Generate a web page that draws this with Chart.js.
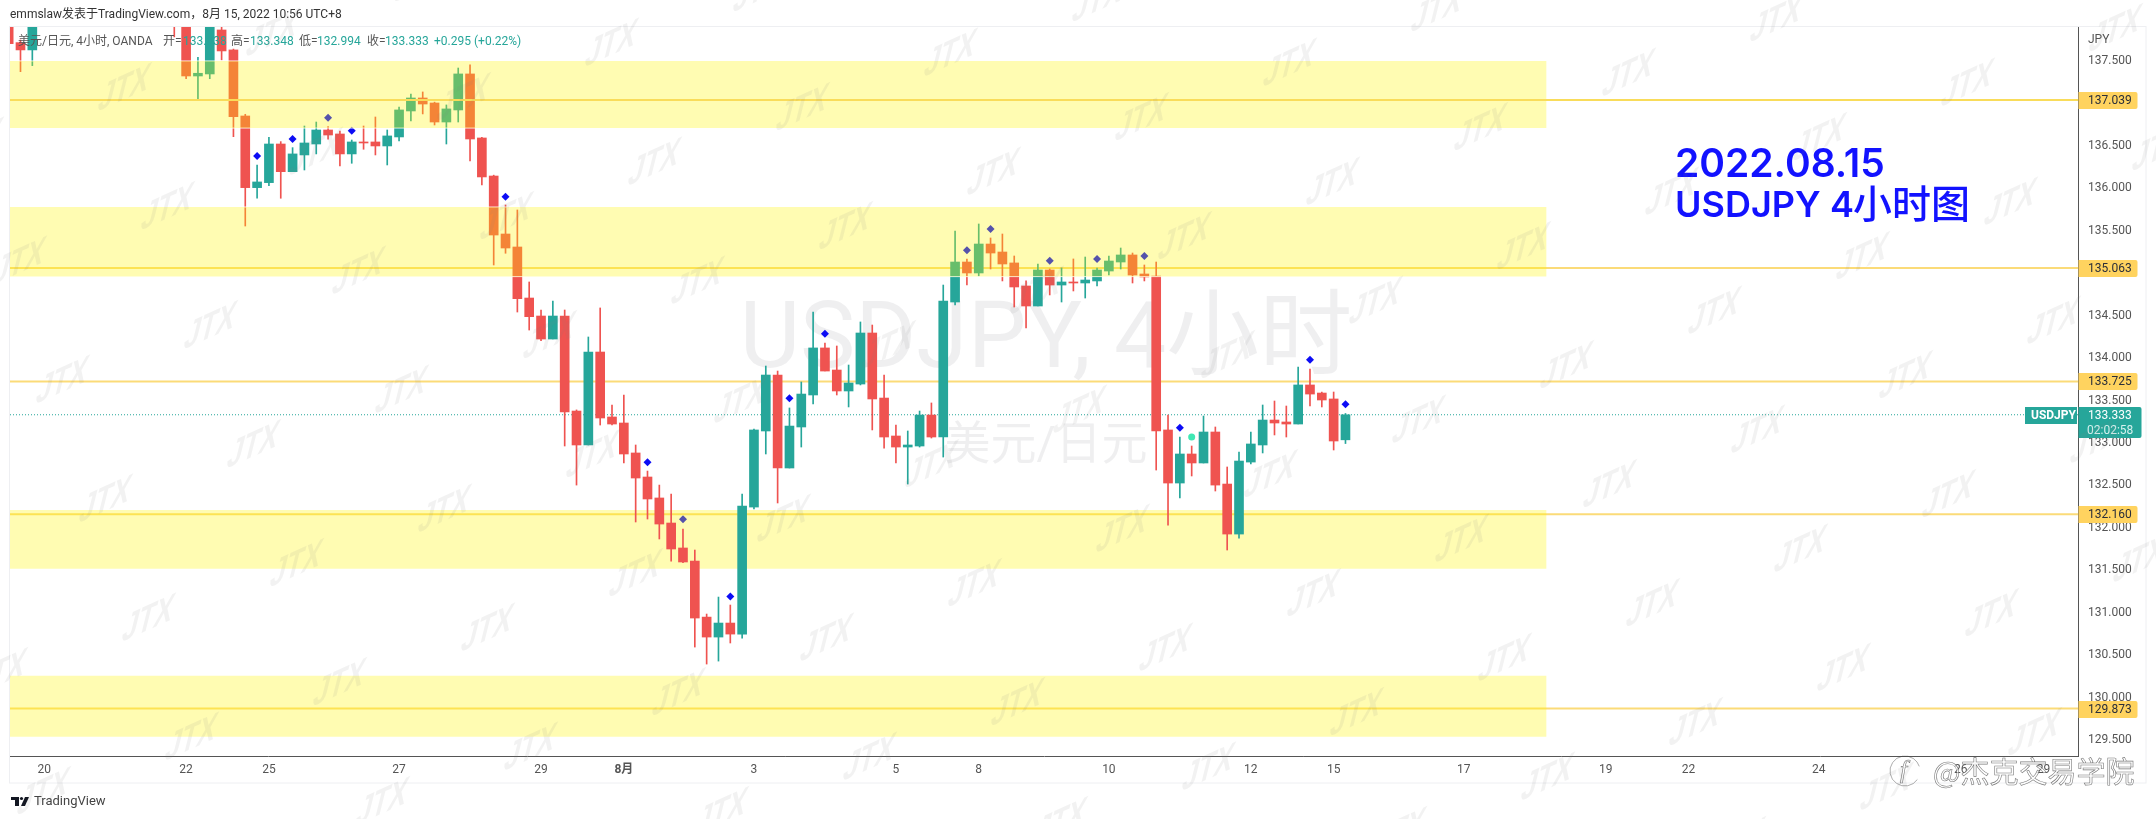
<!DOCTYPE html>
<html>
<head>
<meta charset="utf-8">
<style>
  html, body { margin: 0; padding: 0; background: #fff; }
  canvas { display: block; }
</style>
<script src="https://cdn.jsdelivr.net/npm/chart.js@4/dist/chart.umd.min.js"></script>
</head>
<body>
<canvas id="myChart" width="2156" height="819"></canvas>
<script>
// 4h candles, index 0 is the one cut off at the left edge. 3-13 sit above the visible range.
const opens = [138.05,137.716,137.63,138.00,138.25,138.40,138.30,138.15,138.30,138.45,138.35,138.20,138.35,138.50,138.30,138.00,137.323,137.347,137.865,137.63,
  136.852,136.008,136.067,136.522,136.196,136.393,136.522,136.687,136.64,136.405,136.546,136.546,136.499,136.605,136.911,137.064,137.005,136.781,136.923,137.347,
  136.593,136.145,135.462,135.309,134.708,134.496,134.225,134.496,133.377,132.977,134.072,133.307,133.236,132.883,132.6,132.353,132.058,131.764,131.61,130.95,
  130.715,130.88,130.75,132.246,133.142,133.801,132.706,133.189,133.566,134.12,133.86,133.613,133.695,134.296,133.53,133.083,132.953,132.965,133.33,133.071,
  134.661,135.132,135.003,135.344,135.25,135.121,134.85,134.614,135.038,134.861,134.897,134.885,134.909,135.026,135.132,135.215,134.991,134.967,133.154,132.529,
  132.871,132.765,133.13,132.517,131.928,132.776,132.977,133.271,133.248,133.224,133.684,133.589,133.519,133.038];
const highs = [138.15,137.747,138.2,138.35,138.50,138.60,138.45,138.40,138.55,138.70,138.50,138.45,138.60,138.65,138.45,138.1,137.544,138.02,138.0,137.64,
  136.872,136.275,136.601,136.55,136.479,136.734,136.781,136.726,136.675,136.569,136.734,136.84,136.687,136.958,137.111,137.135,137.015,136.982,137.417,137.453,
  136.6,136.155,135.804,135.745,134.897,134.567,134.673,134.567,133.39,134.249,134.591,133.448,133.566,132.977,132.67,132.505,132.399,131.987,131.74,130.986,
  131.186,131.092,132.399,133.165,133.907,133.848,133.413,133.719,134.543,134.178,134.143,133.919,134.426,134.39,133.801,133.212,133.142,133.377,133.472,134.861,
  135.497,135.168,135.58,135.415,135.462,135.203,134.909,135.109,135.05,135.062,135.168,135.191,135.062,135.203,135.297,135.238,135.097,135.132,133.33,133.071,
  132.965,133.318,133.189,132.718,132.894,133.13,133.448,133.495,133.436,133.896,133.872,133.6,133.601,133.348];
const lows = [137.69,137.374,137.445,137.98,138.10,138.20,138.05,138.00,138.20,138.30,138.10,138.05,138.25,138.20,137.783,137.291,137.041,137.291,137.512,136.608,
  135.556,135.883,136.031,135.883,136.196,136.216,136.405,136.578,136.263,136.295,136.46,136.393,136.275,136.558,136.793,136.876,136.746,136.522,136.781,136.322,
  136.04,135.097,135.235,134.543,134.331,134.205,134.225,132.965,132.505,132.977,133.212,133.212,132.765,132.07,132.105,131.87,131.61,131.59,130.597,130.397,
  130.432,130.645,130.703,132.223,132.871,132.294,132.706,132.953,133.46,133.848,133.566,133.425,133.684,133.154,132.941,132.765,132.517,132.953,133.059,132.835,
  134.626,134.861,134.967,135.05,134.909,134.602,134.355,134.614,134.744,134.661,134.791,134.708,134.85,134.979,135.05,134.885,134.909,132.682,132.034,132.353,
  132.612,132.765,132.435,131.74,131.881,132.753,132.883,133.095,133.071,133.224,133.436,133.425,132.918,132.994];
const closes = [137.704,137.63,138.0,138.25,138.40,138.30,138.15,138.30,138.45,138.35,138.20,138.35,138.50,138.30,138.00,137.323,137.355,137.95,137.618,136.844,
  136.008,136.075,136.522,136.196,136.405,136.534,136.687,136.628,136.405,136.546,136.534,136.499,136.617,136.923,137.064,136.993,136.781,136.935,137.347,136.581,
  136.134,135.45,135.297,134.7,134.488,134.225,134.496,133.366,132.977,134.072,133.295,133.224,132.871,132.588,132.341,132.046,131.752,131.599,130.939,130.715,
  130.88,130.75,132.258,133.154,133.801,132.706,133.2,133.577,134.12,133.848,133.613,133.707,134.296,133.519,133.071,132.953,132.977,133.33,133.071,134.673,
  135.132,135.003,135.344,135.238,135.109,134.838,134.614,135.038,134.861,134.897,134.885,134.92,135.038,135.144,135.215,134.979,134.956,133.142,132.529,132.871,
  132.765,133.13,132.505,131.928,132.788,132.989,133.271,133.236,133.224,133.684,133.577,133.507,133.024,133.333];

// signal markers above candles
const markerIdx = [21,24,27,29,42,54,57,61,66,69,81,83,88,92,96,99,110,113];
const markerPrice = [136.381,136.581,136.832,136.679,135.901,132.773,132.102,131.194,133.527,134.288,135.27,135.521,135.148,135.168,135.203,133.181,133.981,133.456];
const dotIdx = [100];
const dotPrice = [133.07];

// horizontal levels and shaded zones
const levels = [137.039, 135.063, 133.725, 132.16, 129.873];
const bandTop = [137.5, 135.78, 132.21, 130.26];
const bandBottom = [136.71, 134.96, 131.52, 129.54];
const bandEnd = 130;
const lastPrice = 133.333;
const countdown = '02:02:58';

const yTicks = [129.5,130,130.5,131,131.5,132,132.5,133,133.5,134,134.5,135,135.5,136,136.5,137,137.5];
const xTicks = [3,15,22,33,45,52,63,75,82,93,105,112,123,135,142,153,165,172];
const xTickLabels = ['20','22','25','27','29','8月','3','5','8','10','12','15','17','19','22','24','26','29'];

const UP = '#26a69a';
const DOWN = '#ef5350';
const xMin = 0.113;
const xMax = 174.92;
const candleColors = opens.map((o, i) => closes[i] >= o ? UP : DOWN);
const FONT = 'Roboto, "Noto Sans CJK SC", sans-serif';

const datasets = [];

// the two upper zones lie over the candles (orange/green look, white edge),
// the two lower ones lie under them but still over the markers
bandTop.forEach((top, i) => {
  const upper = i < 2;
  datasets.push({
    type: 'line',
    data: [{ x: xMin, y: top }, { x: bandEnd, y: top }],
    borderWidth: 0,
    pointRadius: 0,
    fill: { value: bandBottom[i] },
    backgroundColor: 'rgba(255,245,0,0.3)',
    order: upper ? 0 : 6
  });
  if (upper) {
    [top, bandBottom[i]].forEach(edge => {
      datasets.push({
        type: 'line',
        data: [{ x: xMin, y: edge }, { x: bandEnd, y: edge }],
        borderColor: 'rgba(255,255,255,0.85)',
        borderWidth: 1,
        pointRadius: 0,
        order: 0
      });
    });
  }
});
levels.forEach((level, i) => {
  datasets.push({
    type: 'line',
    data: [{ x: xMin, y: level }, { x: xMax, y: level }],
    borderColor: i === 0 ? '#f9dc5a' : '#fbdb78',
    borderWidth: 2,
    pointRadius: 0,
    order: i === 0 ? -1 : 7
  });
});
datasets.push({
  type: 'line',
  data: [{ x: xMin, y: lastPrice }, { x: xMax, y: lastPrice }],
  borderColor: '#26a69a',
  borderWidth: 1,
  borderDash: [1, 2],
  pointRadius: 0,
  order: 7
});
datasets.push({
  type: 'scatter',
  data: markerIdx.map((x, i) => ({ x, y: markerPrice[i] })),
  pointStyle: 'rectRot',
  pointRadius: 4,
  pointBackgroundColor: '#0c0cf5',
  pointBorderWidth: 0,
  showLine: false,
  order: 8
});
datasets.push({
  type: 'scatter',
  data: dotIdx.map((x, i) => ({ x, y: dotPrice[i] })),
  pointStyle: 'circle',
  pointRadius: 3.5,
  pointBackgroundColor: '#3fe8b4',
  pointBorderWidth: 0,
  showLine: false,
  order: 8
});
datasets.push({
  type: 'bar',
  data: opens.map((o, i) => ({ x: i, y: [o, closes[i]] })),
  backgroundColor: candleColors,
  barThickness: 9,
  minBarLength: 1,
  grouped: false,
  order: 4
});
datasets.push({
  type: 'bar',
  data: opens.map((o, i) => ({ x: i, y: [lows[i], highs[i]] })),
  backgroundColor: candleColors,
  barThickness: 1,
  grouped: false,
  order: 5
});

function roundTag(ctx, x, y, w, h, color) {
  ctx.fillStyle = color;
  ctx.beginPath();
  ctx.roundRect(x, y, w, h, [0, 2, 2, 0]);
  ctx.fill();
}

// big symbol name behind the candles, chart frame
const backdrop = {
  id: 'backdrop',
  beforeDatasetsDraw(chart) {
    const { ctx } = chart;
    ctx.save();
    ctx.strokeStyle = '#eeeff2';
    ctx.lineWidth = 1;
    ctx.strokeRect(9.5, 26.5, 2136.5, 756.5);
    ctx.fillStyle = 'rgba(120,123,134,0.12)';
    ctx.textAlign = 'center';
    ctx.textBaseline = 'middle';
    ctx.font = '93px ' + FONT;
    ctx.fillText('USDJPY, 4小时', 1046, 344);
    ctx.font = '46px ' + FONT;
    ctx.fillText('美元/日元', 1046, 447);
    ctx.restore();
  }
};

// price tags, legends and the overlaid text
const overlay = {
  id: 'overlay',
  afterDraw(chart) {
    const { ctx } = chart;
    const y = chart.scales.y;
    ctx.save();
    ctx.textBaseline = 'middle';

    levels.forEach(level => {
      const py = Math.round(y.getPixelForValue(level));
      roundTag(ctx, 2078.5, py - 8, 59, 17, '#ffd35f');
      ctx.fillStyle = '#2a2e39';
      ctx.font = '12px ' + FONT;
      ctx.fillText(level.toFixed(3), 2088, py + 1);
    });

    const lp = Math.round(y.getPixelForValue(lastPrice));
    ctx.fillStyle = UP;
    ctx.fillRect(2025, lp - 8, 52, 17);
    roundTag(ctx, 2078.5, lp - 8, 63, 31, UP);
    ctx.fillStyle = '#fff';
    ctx.font = 'bold 12px ' + FONT;
    ctx.fillText('USDJPY', 2031, lp + 1);
    ctx.font = '12px ' + FONT;
    ctx.fillText(lastPrice.toFixed(3), 2088, lp + 1);
    ctx.fillStyle = '#d4f1ee';
    ctx.fillText(countdown, 2087, lp + 16);

    ctx.fillStyle = '#555';
    ctx.fillText('JPY', 2088, 40);

    ctx.fillStyle = '#333';
    ctx.font = '12px ' + FONT;
    ctx.fillText('emmslaw发表于TradingView.com，8月 15, 2022 10:56 UTC+8', 10, 15);

    const legend = [
      ['美元/日元, 4小时, OANDA', 18, '#555'], ['开=', 163, '#555'], ['133.038', 183, UP],
      ['高=', 231, '#555'], ['133.348', 250, UP], ['低=', 299, '#555'], ['132.994', 317, UP],
      ['收=', 367, '#555'], ['133.333', 385, UP], ['+0.295', 434, UP], ['(+0.22%)', 474, UP]
    ];
    ctx.font = '12px ' + FONT;
    legend.forEach(([text, x, color]) => {
      ctx.fillStyle = color;
      ctx.fillText(text, x, 42);
    });

    // the blue note on the right
    ctx.fillStyle = '#1212ff';
    ctx.textBaseline = 'alphabetic';
    ctx.font = '600 39px Inter, sans-serif';
    ctx.fillText('2022.08.15', 1675, 177);
    ctx.font = '600 36px Inter, sans-serif';
    ctx.fillText('USDJPY', 1675, 217);
    ctx.fillText('4', 1830, 217);
    ctx.font = '500 39px "Noto Sans CJK SC", sans-serif';
    ctx.fillText('小时图', 1853, 218);

    // TradingView logo
    ctx.fillStyle = '#131722';
    ctx.fillRect(11, 797, 8, 3);
    ctx.fillRect(15, 797, 4, 9);
    ctx.beginPath();
    ctx.arc(21.5, 798.5, 1.6, 0, Math.PI * 2);
    ctx.fill();
    ctx.beginPath();
    ctx.moveTo(25, 797);
    ctx.lineTo(29, 797);
    ctx.lineTo(25, 806);
    ctx.lineTo(21, 806);
    ctx.closePath();
    ctx.fill();
    ctx.fillStyle = '#444';
    ctx.font = '13px ' + FONT;
    ctx.textBaseline = 'middle';
    ctx.fillText('TradingView', 34, 802);

    // JTX watermark, tiled over everything
    ctx.fillStyle = 'rgba(128,128,128,0.1)';
    ctx.textAlign = 'center';
    ctx.font = 'bold 34px "Liberation Sans", sans-serif';
    for (let a = -16; a <= 16; a++) {
      for (let b = -10; b <= 10; b++) {
        const wx = 1714 + a * 148 + b * 43;
        const wy = 313 - a * 54.5 + b * 119;
        if (wx < -60 || wx > 2216 || wy < -60 || wy > 879) continue;
        ctx.save();
        ctx.transform(0.8, -0.36, -0.3, 1.2, wx, wy);
        ctx.fillText('JTX', 0, 0);
        ctx.restore();
      }
    }

    // repost stamp bottom right
    ctx.textAlign = 'left';
    ctx.fillStyle = 'rgba(255,255,255,0.6)';
    ctx.strokeStyle = 'rgba(60,60,60,0.7)';
    ctx.lineWidth = 0.6;
    ctx.font = '29px "Noto Sans CJK SC", sans-serif';
    ctx.fillText('@杰克交易学院', 1933, 772);
    ctx.strokeText('@杰克交易学院', 1933, 772);
    ctx.beginPath();
    ctx.arc(1905, 771, 15, 0.6, Math.PI * 1.9);
    ctx.stroke();
    ctx.font = 'italic 26px "Liberation Serif", serif';
    ctx.strokeText('f', 1900, 771);
    ctx.restore();
  }
};

const ctx = document.getElementById('myChart').getContext('2d');

new Chart(ctx, {
  type: 'bar',
  data: { datasets },
  plugins: [backdrop, overlay],
  options: {
    responsive: false,
    animation: false,
    layout: { padding: { left: 10, top: 27, right: 10, bottom: 36 } },
    plugins: {
      legend: { display: false },
      title: { display: false },
      tooltip: { enabled: false }
    },
    scales: {
      x: {
        type: 'linear',
        offset: false,
        min: xMin,
        max: xMax,
        grid: { display: false, drawTicks: false },
        border: { display: true, color: '#555', width: 1 },
        afterFit(scale) { scale.height = 27; },
        afterBuildTicks(scale) { scale.ticks = xTicks.map(value => ({ value })); },
        ticks: {
          autoSkip: false,
          maxRotation: 0,
          padding: 7,
          color: '#555',
          font: ctx => ({ family: FONT, size: 12, weight: ctx.index === 5 ? 'bold' : 'normal' }),
          callback: (value, index) => xTickLabels[index]
        }
      },
      y: {
        type: 'linear',
        position: 'right',
        min: 129.314,
        max: 137.9,
        grid: { display: false, drawTicks: false },
        border: { display: true, color: '#555', width: 1 },
        afterFit(scale) { scale.width = 68; },
        afterBuildTicks(scale) { scale.ticks = yTicks.map(value => ({ value })); },
        ticks: {
          padding: 10,
          color: '#555',
          font: { family: FONT, size: 12 },
          callback: value => value.toFixed(3)
        }
      }
    }
  }
});
</script>
</body>
</html>
